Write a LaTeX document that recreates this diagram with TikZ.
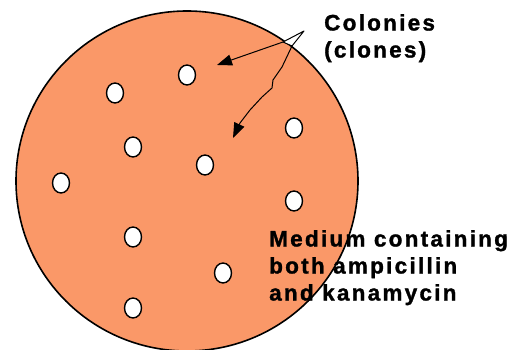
\documentclass[tikz,border=0pt]{standalone}
\usepackage{fontspec}
\setmainfont{Liberation Sans}
\newfontfamily\labfont[LetterSpace=10, BoldFeatures={FakeBold=1.3}]{Liberation Sans}
\usetikzlibrary{arrows.meta,shapes.geometric}
\definecolor{agar}{RGB}{250,152,104}
\tikzset{
  plate/.style={draw=black, line width=1.6pt, fill=agar},
  colony/.style={draw=black, line width=1.4pt, fill=white, ellipse, inner sep=0pt,
                 minimum width=17pt, minimum height=20pt},
  label/.style={font=\labfont\bfseries\fontsize{22.5}{27}\selectfont, align=left, inner sep=0pt, anchor=north west},
  pointer/.style={draw=black, line width=1pt, -{Triangle[length=15pt,width=11pt]}}
}
\begin{document}
\begin{tikzpicture}[x=1pt,y=-1pt]
\useasboundingbox (0,0) rectangle (515,350);
\fill[white] (0,0) rectangle (515,350);
\path[plate] (187,181) ellipse [x radius=171, y radius=170];
% colonies
\node[colony] (c1) at (187,75) {};
\node[colony] (c2) at (115,93) {};
\node[colony] (c3) at (133,147) {};
\node[colony] (c4) at (205,165) {};
\node[colony] (c5) at (294,128) {};
\node[colony] (c6) at (61,183) {};
\node[colony] (c7) at (294,201) {};
\node[colony] (c8) at (133,237) {};
\node[colony] (c9) at (223,273) {};
\node[colony] (c10) at (133,308) {};
% labels
\node[label] (lcol) at (324,14) {Colonies\\(clones)};
\node[label] (lmed) at (269,230) {Medium containing\\both ampicillin\\and kanamycin};
% pointers
\coordinate (o1) at (283,42);
\coordinate (o2) at (292,46);
\coordinate (t1) at (217,65);
\coordinate (t2) at (233,138);
\draw[pointer] (o1) -- (t1);
\draw[pointer] (o2) -- (282,67) -- (273,80) -- (272,88) -- (262,97) -- (250,110) -- (240,123) -- (t2);
\filldraw[fill=white, draw=black, line width=1pt, line join=round] (o1) -- (304,31) -- (o2) -- cycle;
\end{tikzpicture}
\end{document}
